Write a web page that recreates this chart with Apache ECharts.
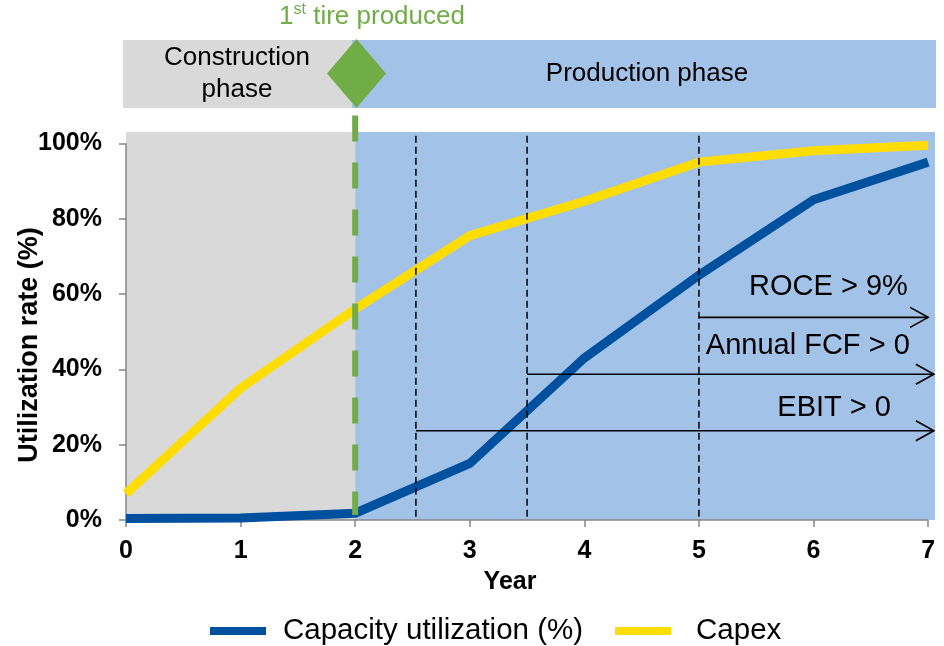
<!DOCTYPE html>
<html>
<head>
<meta charset="utf-8">
<script src="https://cdn.jsdelivr.net/npm/echarts@6/dist/echarts.min.js"></script>
<style>
  html, body { margin: 0; padding: 0; background: #ffffff; }
  #chart { width: 944px; height: 646px; }
</style>
</head>
<body>
<div id="chart"></div>
<script>
// ---- data ----
const years = [0, 1, 2, 3, 4, 5, 6, 7];
const capacityUtilization = [0.4, 0.5, 1.8, 15, 43, 65, 85, 95];
const capex = [7, 35, 56, 75.5, 84.6, 95, 98, 99.5];

const xTickValues = [0, 1, 2, 3, 4, 5, 6, 7];
const yTickValues = [0, 20, 40, 60, 80, 100];

const phaseNames = ['Construction phase', 'Production phase'];
const phaseStart = [0, 2];
const phaseEnd = [2, 7.06];

const firstTireYear = 2;
const milestoneYears = [2.53, 3.5, 5];

const thresholdLabels = ['ROCE > 9%', 'Annual FCF > 0', 'EBIT > 0'];
const thresholdFrom = [5, 3.5, 2.53];
const thresholdTo = [7, 7.05, 7.05];
const thresholdLevel = [53.8, 38.7, 23.7];

// ---- styling / layout ----
const FONT = '"Liberation Sans", Arial, sans-serif';
const BLUE = '#0050A0';
const YELLOW = '#FFDD00';
const GREEN = '#70AD47';
const AXIS_GREY = '#868686';
const phaseColors = { 'Construction phase': '#D9D9D9', 'Production phase': '#A3C2E7' };
const Y_MAX = 103;
const X_MAX = 7.06;
const thresholdTextX = [6.13, 5.95, 6.18];   // label centre, in years
const thresholdTextLift = [30, 28, 23];      // px above the arrow

const chart = echarts.init(document.getElementById('chart'), null, { renderer: 'canvas' });

const phaseData = phaseNames.map((n, i) => [phaseStart[i], phaseEnd[i], i]);
const thresholdData = thresholdLabels.map((t, i) => [thresholdFrom[i], thresholdTo[i], thresholdLevel[i], i]);

const option = {
  animation: false,
  backgroundColor: '#ffffff',
  grid: { left: 126, right: 9, top: 132, bottom: 126, containLabel: false },
  xAxis: {
    type: 'value', min: 0, max: X_MAX,
    axisLine: { show: false },
    splitLine: { show: false },
    axisTick: { show: true, customValues: xTickValues, length: 7, lineStyle: { color: AXIS_GREY, width: 1.5 } },
    axisLabel: {
      customValues: xTickValues, margin: 19,
      fontFamily: FONT, fontSize: 25, fontWeight: 'bold', color: '#000'
    }
  },
  yAxis: {
    type: 'value', min: 0, max: Y_MAX,
    axisLine: { show: false },
    splitLine: { show: false },
    axisTick: { show: true, customValues: yTickValues, length: 7, lineStyle: { color: AXIS_GREY, width: 1.5 } },
    axisLabel: {
      customValues: yTickValues, margin: 24,
      formatter: v => v + '%',
      fontFamily: FONT, fontSize: 25, fontWeight: 'bold', color: '#000'
    }
  },
  legend: {
    data: [
      { name: 'Capacity utilization (%)' },
      { name: 'Capex', textStyle: { padding: [0, 0, 0, 20] } }
    ],
    left: 210, top: 616, padding: 0,
    icon: 'rect', itemWidth: 56, itemHeight: 8, itemGap: 32,
    textStyle: { fontFamily: FONT, fontSize: 29.5, color: '#000', padding: [0, 0, 0, 12] }
  },
  graphic: [
    // phase band above the plot
    { type: 'rect', left: 123, top: 40, shape: { width: 230, height: 68 }, style: { fill: phaseColors['Construction phase'] }, z: 1 },
    { type: 'rect', left: 352, top: 40, shape: { width: 584, height: 68 }, style: { fill: phaseColors['Production phase'] }, z: 1 },
    { type: 'polygon', shape: { points: [[356.5, 39], [386, 73.5], [356.5, 108], [327, 73.5]] }, style: { fill: GREEN }, z: 3 },
    { type: 'text', x: 237, y: 74, z: 4, style: {
        text: 'Construction\nphase', fill: '#000', font: '26px ' + FONT,
        align: 'center', verticalAlign: 'middle', lineHeight: 32 } },
    { type: 'text', x: 647, y: 74, z: 4, style: {
        text: 'Production phase', fill: '#000', font: '26px ' + FONT,
        align: 'center', verticalAlign: 'middle' } },
    { type: 'text', x: 372, y: 17, z: 4, style: {
        text: '{n|1}{s|st}{n| tire produced}',
        align: 'center', verticalAlign: 'middle',
        rich: {
          n: { fontSize: 26, fontFamily: FONT, fill: GREEN, lineHeight: 30 },
          s: { fontSize: 16, fontFamily: FONT, fill: GREEN, verticalAlign: 'top', lineHeight: 22 }
        } } },
    // axis titles
    { type: 'text', x: 30, y: 345, rotation: Math.PI / 2, z: 4, style: {
        text: 'Utilization rate (%)', fill: '#000', font: 'bold 27px ' + FONT,
        align: 'center', verticalAlign: 'middle' } },
    { type: 'text', x: 510, y: 582, z: 4, style: {
        text: 'Year', fill: '#000', font: 'bold 25px ' + FONT,
        align: 'center', verticalAlign: 'middle' } }
  ],
  series: [
    {
      // phase backgrounds inside the plot
      type: 'custom', name: 'phases', z: 0, silent: true,
      encode: { x: [0, 1] },
      data: phaseData,
      renderItem: (params, api) => {
        const a = api.coord([api.value(0), Y_MAX]);
        const b = api.coord([api.value(1), 0]);
        return { type: 'rect', shape: { x: a[0], y: a[1], width: b[0] - a[0], height: b[1] - a[1] },
                 style: { fill: phaseColors[phaseNames[api.value(2)]] } };
      }
    },
    {
      // axis lines, 0..7 and 0..100%
      type: 'custom', name: 'axes', z: 1, silent: true,
      data: [[0]],
      renderItem: (params, api) => {
        const o = api.coord([0, 0]);
        const xe = api.coord([xTickValues[xTickValues.length - 1], 0]);
        const ye = api.coord([0, yTickValues[yTickValues.length - 1]]);
        return { type: 'group', children: [
          { type: 'line', shape: { x1: o[0], y1: o[1], x2: xe[0], y2: xe[1] }, style: { stroke: AXIS_GREY, lineWidth: 1.5 } },
          { type: 'line', shape: { x1: o[0], y1: o[1], x2: ye[0], y2: ye[1] }, style: { stroke: AXIS_GREY, lineWidth: 1.5 } }
        ] };
      }
    },
    {
      name: 'Capacity utilization (%)', type: 'line', z: 2,
      data: years.map((y, i) => [y, capacityUtilization[i]]),
      showSymbol: false, symbol: 'none',
      itemStyle: { color: BLUE },
      lineStyle: { color: BLUE, width: 9, join: 'miter' }
    },
    {
      name: 'Capex', type: 'line', z: 2,
      data: years.map((y, i) => [y, capex[i]]),
      showSymbol: false, symbol: 'none',
      itemStyle: { color: YELLOW },
      lineStyle: { color: YELLOW, width: 9, join: 'miter' }
    },
    {
      // dashed milestone markers
      type: 'custom', name: 'milestones', z: 4, silent: true, clip: false,
      encode: { x: 0 },
      data: milestoneYears.map(y => [y]),
      renderItem: (params, api) => {
        const t = api.coord([api.value(0), Y_MAX - 1]);
        const b = api.coord([api.value(0), 0]);
        return { type: 'line', shape: { x1: t[0], y1: t[1], x2: b[0], y2: b[1] },
                 style: { stroke: '#000', lineWidth: 1.5, lineDash: [7, 4] } };
      }
    },
    {
      // first tire produced marker
      type: 'custom', name: 'first tire', z: 5, silent: true, clip: false,
      encode: { x: 0 },
      data: [[firstTireYear]],
      renderItem: (params, api) => {
        const t = api.coord([api.value(0), 107.4]);
        const b = api.coord([api.value(0), 1.3]);
        return { type: 'line', shape: { x1: t[0], y1: t[1], x2: b[0], y2: b[1] },
                 style: { stroke: GREEN, lineWidth: 6, lineDash: [26, 21] } };
      }
    },
    {
      // threshold arrows with labels
      type: 'custom', name: 'thresholds', z: 5, silent: true, clip: false,
      encode: { x: [0, 1], y: 2 },
      data: thresholdData,
      renderItem: (params, api) => {
        const i = api.value(3);
        const p0 = api.coord([api.value(0), api.value(2)]);
        const p1 = api.coord([api.value(1), api.value(2)]);
        const tx = api.coord([thresholdTextX[i], api.value(2)])[0];
        return { type: 'group', children: [
          { type: 'line', shape: { x1: p0[0], y1: p0[1], x2: p1[0], y2: p1[1] }, style: { stroke: '#000', lineWidth: 1.6 } },
          { type: 'polyline', shape: { points: [[p1[0] - 18, p1[1] - 10], [p1[0], p1[1]], [p1[0] - 18, p1[1] + 10]] },
            style: { stroke: '#000', fill: null, lineWidth: 1.6 } },
          { type: 'text', x: tx, y: p1[1] - thresholdTextLift[i],
            style: { text: thresholdLabels[i], fill: '#000', font: '29px ' + FONT, align: 'center', verticalAlign: 'middle' } }
        ] };
      }
    }
  ]
};

chart.setOption(option);
</script>
</body>
</html>
